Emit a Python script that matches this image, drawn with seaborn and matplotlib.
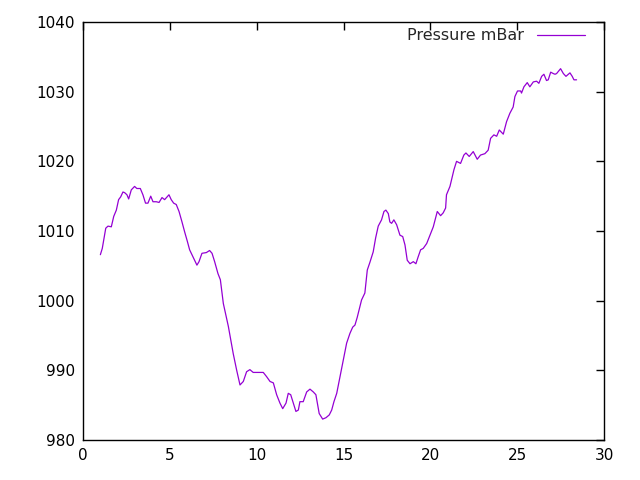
import matplotlib
matplotlib.use('Agg')
import matplotlib.pyplot as plt
import seaborn as sns
import pandas as pd

hours = [1.00, 1.11, 1.31, 1.44, 1.63, 1.77, 1.92, 2.05, 2.17, 2.30, 2.40, 2.53, 2.63, 2.78, 2.97,
         3.10, 3.30, 3.45, 3.60, 3.74, 3.90, 4.03, 4.22, 4.38, 4.55, 4.70, 4.84, 4.95, 5.08, 5.22,
         5.37, 5.53, 5.70, 5.85, 6.01, 6.14, 6.33, 6.56, 6.68, 6.85, 7.10, 7.29, 7.43, 7.58, 7.77,
         7.91, 8.08, 8.37, 8.65, 8.85, 9.04, 9.23, 9.42, 9.61, 9.80, 10.09, 10.38, 10.57, 10.77,
         10.96, 11.15, 11.34, 11.50, 11.69, 11.82, 11.96, 12.11, 12.26, 12.40, 12.49, 12.68, 12.88,
         13.07, 13.26, 13.41, 13.60, 13.80, 13.99, 14.18, 14.32, 14.45, 14.61, 14.80, 14.99, 15.18,
         15.37, 15.53, 15.66, 15.79, 16.04, 16.23, 16.37, 16.52, 16.71, 16.85, 17.00, 17.19, 17.33,
         17.44, 17.58, 17.67, 17.77, 17.90, 18.06, 18.25, 18.41, 18.54, 18.67, 18.83, 19.02, 19.17,
         19.30, 19.44, 19.59, 19.79, 19.98, 20.17, 20.40, 20.59, 20.74, 20.88, 20.93, 21.13, 21.36,
         21.51, 21.74, 21.93, 22.05, 22.24, 22.47, 22.70, 22.89, 23.14, 23.33, 23.47, 23.66, 23.82,
         23.97, 24.20, 24.39, 24.58, 24.77, 24.87, 25.02, 25.20, 25.25, 25.39, 25.58, 25.73, 25.93,
         26.12, 26.25, 26.41, 26.54, 26.69, 26.79, 26.93, 27.08, 27.18, 27.27, 27.50, 27.66, 27.81,
         28.04, 28.17, 28.27, 28.42]
pressure = [1006.6, 1007.5, 1010.4, 1010.7, 1010.6, 1012.1, 1013.0, 1014.5, 1014.9, 1015.6, 1015.5,
            1015.2, 1014.6, 1015.9, 1016.4, 1016.1, 1016.1, 1015.2, 1014.0, 1014.0, 1015.0, 1014.2,
            1014.2, 1014.1, 1014.8, 1014.5, 1014.9, 1015.2, 1014.5, 1014.0, 1013.8, 1012.8, 1011.3,
            1009.9, 1008.5, 1007.3, 1006.3, 1005.1, 1005.6, 1006.8, 1006.9, 1007.2, 1006.8, 1005.6,
            1003.9, 1003.0, 999.6, 996.3, 992.4, 990.0, 987.9, 988.4, 989.8, 990.1, 989.7, 989.7,
            989.7, 989.1, 988.4, 988.2, 986.5, 985.3, 984.5, 985.3, 986.7, 986.5, 985.3, 984.1,
            984.3, 985.5, 985.5, 986.9, 987.3, 986.9, 986.5, 983.8, 983.0, 983.2, 983.6, 984.3,
            985.5, 986.7, 989.1, 991.5, 993.9, 995.3, 996.2, 996.5, 997.6, 1000.1, 1001.1, 1004.4,
            1005.5, 1007.0, 1009.0, 1010.7, 1011.6, 1012.8, 1013.0, 1012.5, 1011.3, 1011.1, 1011.6,
            1010.9, 1009.4, 1009.2, 1008.0, 1005.8, 1005.3, 1005.6, 1005.3, 1006.3, 1007.3, 1007.5,
            1008.2, 1009.4, 1010.6, 1012.8, 1012.2, 1012.6, 1013.3, 1015.2, 1016.4, 1018.8, 1020.0,
            1019.7, 1020.9, 1021.2, 1020.7, 1021.4, 1020.3, 1020.9, 1021.1, 1021.6, 1023.3, 1023.8,
            1023.6, 1024.5, 1023.9, 1025.7, 1026.9, 1027.8, 1029.3, 1030.1, 1030.1, 1029.8, 1030.7,
            1031.3, 1030.7, 1031.4, 1031.5, 1031.2, 1032.2, 1032.5, 1031.6, 1031.7, 1032.8, 1032.6,
            1032.5, 1032.6, 1033.3, 1032.6, 1032.2, 1032.7, 1032.2, 1031.7, 1031.7]

df = pd.DataFrame({'hours': hours, 'Pressure mBar': pressure})

sns.set_style('white')
plt.rcParams['font.family'] = ['DejaVu Sans']

fig = plt.figure(figsize=(6.4, 4.8), dpi=100)
ax = fig.add_axes([83 / 640, 40 / 480, 521 / 640, 418 / 480])
sns.lineplot(data=df, x='hours', y='Pressure mBar', color='#9400d3',
             linewidth=0.9, label='Pressure mBar', ax=ax)

ax.set_xlim(0, 30)
ax.set_ylim(980, 1040)
ax.set_xticks(range(0, 31, 5))
ax.set_yticks(range(980, 1041, 10))
ax.set_xlabel('')
ax.set_ylabel('')
for s in ax.spines.values():
    s.set_color('black')
    s.set_linewidth(1)
ax.tick_params(direction='in', length=6, width=1, top=True, right=True,
               labelsize=11, colors='black', pad=6)

ax.legend(loc='upper right', frameon=False, markerfirst=False, fontsize=11.5,
          handlelength=3.0, handletextpad=0.8, borderpad=0, borderaxespad=0,
          bbox_to_anchor=(0.9635, 0.985))

fig.savefig('out.png', dpi=100)
